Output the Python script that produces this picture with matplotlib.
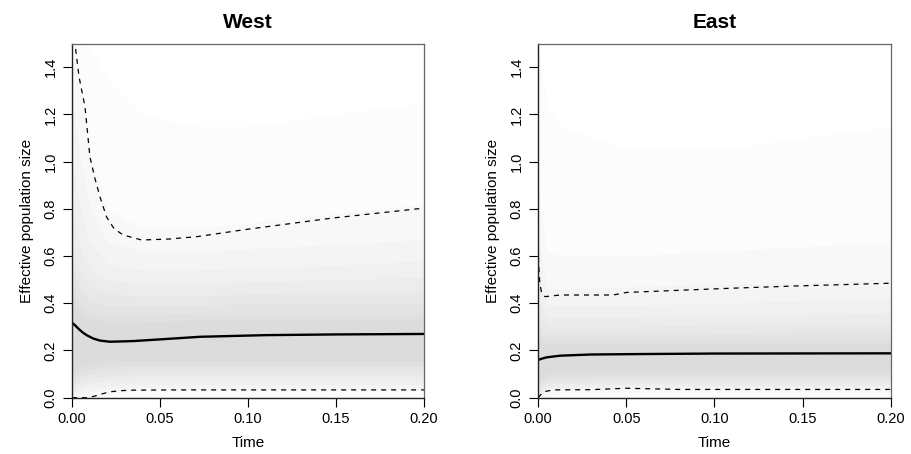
import matplotlib.pyplot as plt

plt.rcParams['font.family'] = ['Liberation Sans', 'DejaVu Sans']

# ---- West ----
west_t = [0.0, 0.0017, 0.004, 0.0074, 0.0102, 0.013, 0.0159, 0.0197, 0.024, 0.0292, 0.0396,
          0.055, 0.0708, 0.0992, 0.148, 0.2]
west_upper = [1.9, 1.5, 1.36, 1.232, 1.02, 0.93, 0.851, 0.765, 0.715, 0.689, 0.668,
              0.672, 0.682, 0.713, 0.761, 0.803]
west_med_t = [0.0, 0.002, 0.004, 0.006, 0.0083, 0.012, 0.0159, 0.0216, 0.035, 0.05, 0.0727, 0.11, 0.15, 0.2]
west_median = [0.318, 0.305, 0.29, 0.277, 0.265, 0.251, 0.242, 0.237, 0.24, 0.247, 0.258, 0.265, 0.268, 0.270]
west_low_t = [0.0, 0.008, 0.0121, 0.0165, 0.0216, 0.028, 0.035, 0.06, 0.1, 0.2]
west_lower = [0.0, 0.0, 0.005, 0.015, 0.025, 0.030, 0.032, 0.033, 0.033, 0.033]

# background posterior density bands (lo / hi per band)
west_band_t = [0.0, 0.005, 0.01, 0.02, 0.04, 0.07, 0.1, 0.15, 0.2]
west_bands = [
    ([0.0, 0.0, 0.0, 0.0, 0.0, 0.0, 0.0, 0.0, 0.0], [1.5, 1.5, 1.5, 1.35, 1.2, 1.15, 1.15, 1.2, 1.25]),
    ([0.0, 0.0, 0.0, 0.02, 0.03, 0.03, 0.03, 0.03, 0.03], [1.5, 1.3, 1.05, 0.8, 0.72, 0.72, 0.74, 0.78, 0.82]),
    ([0.0, 0.01, 0.02, 0.035, 0.04, 0.04, 0.04, 0.04, 0.04], [1.3, 1.0, 0.82, 0.66, 0.62, 0.62, 0.63, 0.65, 0.67]),
    ([0.01, 0.03, 0.04, 0.05, 0.055, 0.055, 0.055, 0.055, 0.055], [1.0, 0.8, 0.66, 0.57, 0.54, 0.54, 0.55, 0.56, 0.58]),
    ([0.02, 0.05, 0.06, 0.07, 0.075, 0.075, 0.075, 0.075, 0.075], [0.8, 0.62, 0.54, 0.5, 0.48, 0.48, 0.49, 0.5, 0.51]),
    ([0.04, 0.07, 0.08, 0.09, 0.095, 0.095, 0.095, 0.095, 0.095], [0.65, 0.52, 0.47, 0.44, 0.43, 0.43, 0.44, 0.45, 0.45]),
    ([0.06, 0.09, 0.1, 0.11, 0.115, 0.115, 0.115, 0.115, 0.115], [0.55, 0.45, 0.41, 0.39, 0.39, 0.39, 0.40, 0.40, 0.40]),
    ([0.08, 0.11, 0.12, 0.13, 0.135, 0.135, 0.135, 0.135, 0.135], [0.47, 0.4, 0.37, 0.35, 0.35, 0.36, 0.36, 0.36, 0.36]),
    ([0.1, 0.13, 0.14, 0.15, 0.155, 0.155, 0.155, 0.155, 0.155], [0.42, 0.36, 0.34, 0.32, 0.32, 0.33, 0.33, 0.33, 0.33]),
]

# ---- East ----
east_t = [0.0, 0.0003, 0.001, 0.002, 0.004, 0.0125, 0.0425, 0.0503, 0.107, 0.145, 0.2]
east_upper = [0.68, 0.569, 0.485, 0.445, 0.428, 0.435, 0.435, 0.446, 0.463, 0.473, 0.485]
east_med_t = [0.0, 0.002, 0.0049, 0.0125, 0.03, 0.06, 0.1, 0.2]
east_median = [0.160, 0.165, 0.171, 0.178, 0.183, 0.185, 0.187, 0.188]
east_low_t = [0.0, 0.001, 0.003, 0.0087, 0.03, 0.05, 0.08, 0.2]
east_lower = [0.0, 0.008, 0.025, 0.033, 0.034, 0.04, 0.035, 0.035]

east_band_t = [0.0, 0.005, 0.0125, 0.05, 0.1, 0.15, 0.2]
east_bands = [
    ([0.0, 0.0, 0.0, 0.0, 0.0, 0.0, 0.0], [1.5, 1.25, 1.15, 1.05, 1.05, 1.1, 1.15]),
    ([0.0, 0.0, 0.02, 0.025, 0.025, 0.025, 0.025], [0.9, 0.62, 0.6, 0.6, 0.62, 0.64, 0.66]),
    ([0.0, 0.025, 0.033, 0.04, 0.035, 0.035, 0.035], [0.68, 0.46, 0.46, 0.47, 0.48, 0.49, 0.5]),
    ([0.01, 0.035, 0.04, 0.045, 0.045, 0.045, 0.045], [0.52, 0.39, 0.39, 0.39, 0.40, 0.41, 0.42]),
    ([0.02, 0.045, 0.05, 0.055, 0.055, 0.055, 0.055], [0.42, 0.34, 0.34, 0.34, 0.35, 0.35, 0.36]),
    ([0.03, 0.055, 0.06, 0.065, 0.065, 0.065, 0.065], [0.36, 0.30, 0.30, 0.30, 0.31, 0.31, 0.31]),
    ([0.045, 0.07, 0.075, 0.08, 0.08, 0.08, 0.08], [0.31, 0.27, 0.27, 0.27, 0.27, 0.28, 0.28]),
    ([0.06, 0.085, 0.09, 0.095, 0.095, 0.095, 0.095], [0.27, 0.25, 0.25, 0.25, 0.25, 0.25, 0.25]),
    ([0.08, 0.10, 0.11, 0.115, 0.115, 0.115, 0.115], [0.24, 0.23, 0.23, 0.23, 0.23, 0.23, 0.23]),
]

panels = [
    ("West", west_band_t, west_bands, west_t, west_upper, west_med_t, west_median, west_low_t, west_lower),
    ("East", east_band_t, east_bands, east_t, east_upper, east_med_t, east_median, east_low_t, east_lower),
]

fig = plt.figure(figsize=(9.11, 4.54), dpi=100)
positions = [[0.079, 0.124, 0.3864, 0.780], [0.5906, 0.124, 0.3874, 0.780]]

for pos, (name, bt, bands, ut, up, mt, med, lt, lo) in zip(positions, panels):
    ax = fig.add_axes(pos)
    for k, (blo, bhi) in enumerate(bands):
        a = 0.01 if k == 0 else 0.016
        ax.fill_between(bt, blo, bhi, color='black', alpha=a, lw=0)
    ax.plot(ut, up, color='black', lw=0.9, dashes=(4, 4))
    ax.plot(lt, lo, color='black', lw=0.9, dashes=(4, 4))
    ax.plot(mt, med, color='black', lw=1.7)
    ax.set_xlim(0, 0.2)
    ax.set_ylim(0, 1.5)
    ax.set_xticks([0.0, 0.05, 0.10, 0.15, 0.20])
    ax.set_xticklabels(["0.00", "0.05", "0.10", "0.15", "0.20"])
    ax.set_yticks([0.0, 0.2, 0.4, 0.6, 0.8, 1.0, 1.2, 1.4])
    ax.set_yticklabels(["0.0", "0.2", "0.4", "0.6", "0.8", "1.0", "1.2", "1.4"],
                       rotation=90, va='center')
    ax.tick_params(direction='out', length=6.5, width=0.8, labelsize=10.5, pad=4)
    ax.set_xlabel("Time", fontsize=11, labelpad=7)
    ax.set_ylabel("Effective population size", fontsize=11, labelpad=7)
    ax.set_title(name, fontsize=15, fontweight='bold', pad=11)
    for s in ['left', 'bottom']:
        ax.spines[s].set_color('#222222')
        ax.spines[s].set_linewidth(1.0)
    for s in ['top', 'right']:
        ax.spines[s].set_color('#666666')
        ax.spines[s].set_linewidth(0.9)

fig.savefig("out.png", dpi=100)
